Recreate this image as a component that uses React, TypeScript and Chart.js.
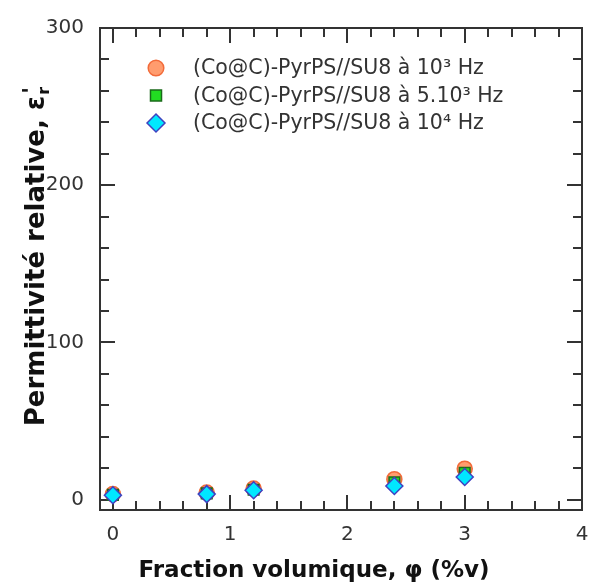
import { useEffect, useRef } from 'react';
import { Chart, registerables } from 'chart.js';
import { drawPoint } from 'chart.js/helpers';

Chart.register(...registerables);

// ---- data ----
const PHI = [0, 0.8, 1.2, 2.4, 3];
const EPS_1E3 = [3.5, 4.5, 7, 13, 19.7];
const EPS_5E3 = [3, 4, 6.3, 11, 17];
const EPS_1E4 = [2.8, 3.5, 6, 8.7, 14.4];
const SERIES_LABELS = [
  '(Co@C)-PyrPS//SU8 à 10³ Hz',
  '(Co@C)-PyrPS//SU8 à 5.10³ Hz',
  '(Co@C)-PyrPS//SU8 à 10⁴ Hz',
];
const X_TICKS = [0, 1, 2, 3, 4];
const Y_TICKS = [0, 100, 200, 300];
const X_MINOR = 0.2;
const Y_MINOR = 20;
const X_TITLE = 'Fraction volumique, φ (%v)';
const Y_TITLE_MAIN = 'Permittivité relative, ε';
const Y_TITLE_SUB = 'r';
const Y_TITLE_SUP = "'";

// ---- style ----
const FONT = '"DejaVu Sans", Verdana, sans-serif';
const AXIS_COLOR = '#333333';
const TEXT_COLOR = '#333333';

const framePlugin = {
  id: 'frameTicks',
  beforeDatasetsDraw(chart: any) {
    const { ctx, chartArea: a, scales } = chart;
    const x = scales.x;
    const y = scales.y;
    ctx.save();
    ctx.strokeStyle = AXIS_COLOR;
    ctx.lineWidth = 2;
    ctx.beginPath();
    const xMin = X_TICKS[0];
    const xMax = X_TICKS[X_TICKS.length - 1];
    const nx = Math.round((xMax - xMin) / X_MINOR);
    for (let i = 0; i <= nx; i++) {
      const v = xMin + i * X_MINOR;
      const major = X_TICKS.some((t) => Math.abs(t - v) < 1e-6);
      const len = major ? 15 : 9;
      const px = Math.round(x.getPixelForValue(v));
      ctx.moveTo(px, a.bottom);
      ctx.lineTo(px, a.bottom - len);
      ctx.moveTo(px, a.top);
      ctx.lineTo(px, a.top + len);
    }
    const yMin = Y_TICKS[0];
    const yMax = Y_TICKS[Y_TICKS.length - 1];
    const ny = Math.round((yMax - yMin) / Y_MINOR);
    for (let i = 0; i <= ny; i++) {
      const v = yMin + i * Y_MINOR;
      const major = Y_TICKS.some((t) => Math.abs(t - v) < 1e-6);
      const len = major ? 15 : 9;
      const py = Math.round(y.getPixelForValue(v));
      ctx.moveTo(a.left, py);
      ctx.lineTo(a.left + len, py);
      ctx.moveTo(a.right, py);
      ctx.lineTo(a.right - len, py);
    }
    ctx.stroke();
    ctx.strokeRect(a.left, a.top, a.right - a.left, a.bottom - a.top);
    ctx.restore();
  },
  afterDraw(chart: any) {
    const { ctx, chartArea: a } = chart;
    ctx.save();
    // legend
    const mx = a.left + 56;
    const my0 = a.top + 40;
    const row = 27.5;
    chart.data.datasets.forEach((ds: any, i: number) => {
      const cy = my0 + i * row;
      ctx.fillStyle = ds.backgroundColor;
      ctx.strokeStyle = ds.borderColor;
      ctx.lineWidth = ds.borderWidth;
      drawPoint(ctx, { pointStyle: ds.pointStyle, radius: ds.legendRadius, rotation: 0, borderWidth: ds.borderWidth } as any, mx, cy);
      ctx.fillStyle = TEXT_COLOR;
      ctx.font = `20.5px ${FONT}`;
      ctx.textAlign = 'left';
      ctx.textBaseline = 'middle';
      ctx.fillText(ds.label, mx + 37, cy + 1);
    });
    // x title
    ctx.fillStyle = '#111111';
    ctx.font = `bold 23px ${FONT}`;
    ctx.textAlign = 'center';
    ctx.textBaseline = 'alphabetic';
    ctx.fillText(X_TITLE, (a.left + a.right) / 2 - 27, a.bottom + 67);
    // y title (rotated)
    ctx.translate(44, (a.top + a.bottom) / 2 - 13);
    ctx.rotate(-Math.PI / 2);
    ctx.font = `bold 26px ${FONT}`;
    const w1 = ctx.measureText(Y_TITLE_MAIN).width;
    ctx.font = `bold 16px ${FONT}`;
    const w2 = ctx.measureText(Y_TITLE_SUB).width;
    const total = w1 + w2 + 2;
    let cx = -total / 2;
    ctx.textAlign = 'left';
    ctx.font = `bold 26px ${FONT}`;
    ctx.fillText(Y_TITLE_MAIN, cx, 0);
    cx += w1;
    ctx.font = `bold 16px ${FONT}`;
    ctx.fillText(Y_TITLE_SUB, cx + 1, 5);
    ctx.font = `bold 22px ${FONT}`;
    ctx.fillText(Y_TITLE_SUP, cx + 2, -6);
    ctx.restore();
  },
};

export default function App() {
  const ref = useRef<HTMLCanvasElement>(null);
  useEffect(() => {
    document.body.style.margin = '0';
    const mk = (ys: number[]) => PHI.map((x, i) => ({ x, y: ys[i] }));
    const chart = new Chart(ref.current as HTMLCanvasElement, {
      type: 'scatter',
      data: {
        datasets: [
          {
            label: SERIES_LABELS[0],
            data: mk(EPS_1E3),
            pointStyle: 'circle',
            pointRadius: 7.5,
            backgroundColor: '#ff9c6e',
            borderColor: '#f26b3a',
            borderWidth: 1.5,
            order: 2,
            legendRadius: 7.8,
          } as any,
          {
            label: SERIES_LABELS[1],
            data: mk(EPS_5E3),
            pointStyle: 'rect',
            pointRadius: 7.5,
            backgroundColor: '#22dd22',
            borderColor: '#1a6a1a',
            borderWidth: 1.5,
            order: 1,
            legendRadius: 7.8,
          } as any,
          {
            label: SERIES_LABELS[2],
            data: mk(EPS_1E4),
            pointStyle: 'rectRot',
            pointRadius: 8.5,
            backgroundColor: '#00e8ff',
            borderColor: '#4040c0',
            borderWidth: 1.5,
            order: 0,
            legendRadius: 9,
          } as any,
        ],
      },
      options: {
        responsive: false,
        animation: false,
        devicePixelRatio: 1,
        layout: { padding: { left: 0, top: 25, right: 0, bottom: 0 } },
        plugins: {
          legend: { display: false },
          tooltip: { enabled: false },
        },
        scales: {
          x: {
            type: 'linear',
            position: 'bottom',
            min: -0.11,
            max: 4,
            grid: { display: false, drawTicks: false },
            border: { display: false },
            ticks: {
              font: { family: FONT, size: 20, lineHeight: 2.5 },
              color: TEXT_COLOR,
              padding: 0,
              maxRotation: 0,
              autoSkip: false,
            },
            afterBuildTicks: (s: any) => {
              s.ticks = X_TICKS.map((value) => ({ value }));
            },
            afterFit: (s: any) => {
              s.height = 75;
            },
          },
          y: {
            type: 'linear',
            position: 'left',
            min: -6.6,
            max: 300,
            grid: { display: false, drawTicks: false },
            border: { display: false },
            ticks: { font: { family: FONT, size: 20 }, color: TEXT_COLOR, padding: 16, autoSkip: false },
            afterBuildTicks: (s: any) => {
              s.ticks = Y_TICKS.map((value) => ({ value }));
            },
            afterFit: (s: any) => {
              s.width = 100;
            },
          },
        },
      },
      plugins: [framePlugin],
    } as any);
    return () => chart.destroy();
  }, []);
  return (
    <div style={{ width: 592, height: 585 }}>
      <canvas ref={ref} width={592} height={585} style={{ display: 'block' }} />
    </div>
  );
}
